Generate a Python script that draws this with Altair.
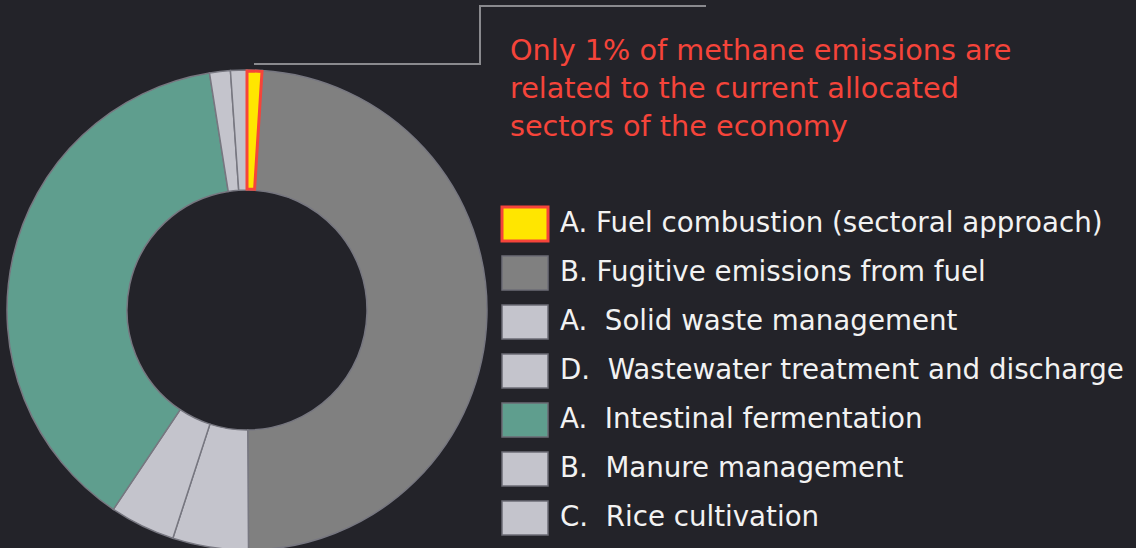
import altair as alt
import pandas as pd

# ---- data ----
categories = [
    "A. Fuel combustion (sectoral approach)",
    "B. Fugitive emissions from fuel",
    "A.\u00a0 Solid waste management",
    "D.\u00a0 Wastewater treatment and discharge",
    "A.\u00a0 Intestinal fermentation",
    "B.\u00a0 Manure management",
    "C.\u00a0 Rice cultivation",
]
shares = [1.0, 48.9, 5.1, 4.4, 38.1, 1.4, 1.1]
note_lines = [
    "Only 1% of methane emissions are",
    "related to the current allocated",
    "sectors of the economy",
]

# ---- styles ----
palette = ["#FFE600", "#808080", "#C4C4CC", "#C4C4CC", "#5F9E8E", "#C4C4CC", "#C4C4CC"]
BG = "#232329"
RED = "#F5443A"

df = pd.DataFrame({"category": categories, "share": shares, "idx": list(range(len(categories)))})
color_scale = alt.Scale(domain=categories, range=palette)
yscale = alt.Scale(domain=[0, 6], range=[224, 518])

base = alt.Chart(df)

arcs = base.mark_arc(innerRadius=120, outerRadius=240, stroke="#777780", strokeWidth=1.5).encode(
    theta=alt.Theta("share:Q", stack=True),
    order=alt.Order("idx:Q"),
    color=alt.Color("category:N", scale=color_scale, legend=None),
    x=alt.value(247),
    y=alt.value(310),
)

highlight = base.mark_arc(innerRadius=121, outerRadius=239, strokeWidth=3, strokeJoin="miter",
                          fill="#FFE600", stroke=RED).encode(
    theta=alt.Theta("share:Q", stack=True),
    order=alt.Order("idx:Q"),
    opacity=alt.condition("datum.idx == 0", alt.value(1), alt.value(0)),
    x=alt.value(247),
    y=alt.value(310),
)

legend_boxes = base.transform_calculate(
    y0="datum.idx - 0.345", y1="datum.idx + 0.345"
).mark_rect(strokeWidth=1.5).encode(
    x=alt.value(502),
    x2=alt.value(548),
    y=alt.Y("y0:Q", scale=yscale, axis=None),
    y2="y1:Q",
    color=alt.Color("category:N", scale=color_scale, legend=None),
    stroke=alt.condition("datum.idx == 0", alt.value(RED), alt.value("#6c6c76")),
    strokeWidth=alt.condition("datum.idx == 0", alt.value(3), alt.value(1.5)),
)

legend_text = base.mark_text(align="left", baseline="middle", fontSize=27.7, color="#F2F2F2",
                             font="DejaVu Sans").encode(
    x=alt.value(560),
    y=alt.Y("idx:Q", scale=yscale, axis=None),
    text="category:N",
)

note_df = pd.DataFrame({"t": ["\n".join(note_lines)]})
note = alt.Chart(note_df).mark_text(
    align="left", baseline="alphabetic", fontSize=28.7, lineBreak="\n", lineHeight=38,
    color=RED, font="DejaVu Sans"
).encode(text="t:N", x=alt.value(510), y=alt.value(60))

lead_df = pd.DataFrame({"k": [0]})
lead1 = alt.Chart(lead_df).mark_rule(color="#8A8A8E", strokeWidth=2).encode(
    x=alt.value(254), x2=alt.value(481), y=alt.value(64))
lead2 = alt.Chart(lead_df).mark_rule(color="#8A8A8E", strokeWidth=2).encode(
    x=alt.value(480), y=alt.value(64), y2=alt.value(5))
lead3 = alt.Chart(lead_df).mark_rule(color="#8A8A8E", strokeWidth=2).encode(
    x=alt.value(479), x2=alt.value(706), y=alt.value(6))

chart = alt.layer(arcs, highlight, legend_boxes, legend_text, note, lead1, lead2, lead3).properties(
    width=1136, height=548, background=BG, padding=0,
    autosize=alt.AutoSizeParams(type="none"),
).configure_view(stroke=None)

chart.save("out.html", embed_options={"renderer": "svg", "actions": False})
